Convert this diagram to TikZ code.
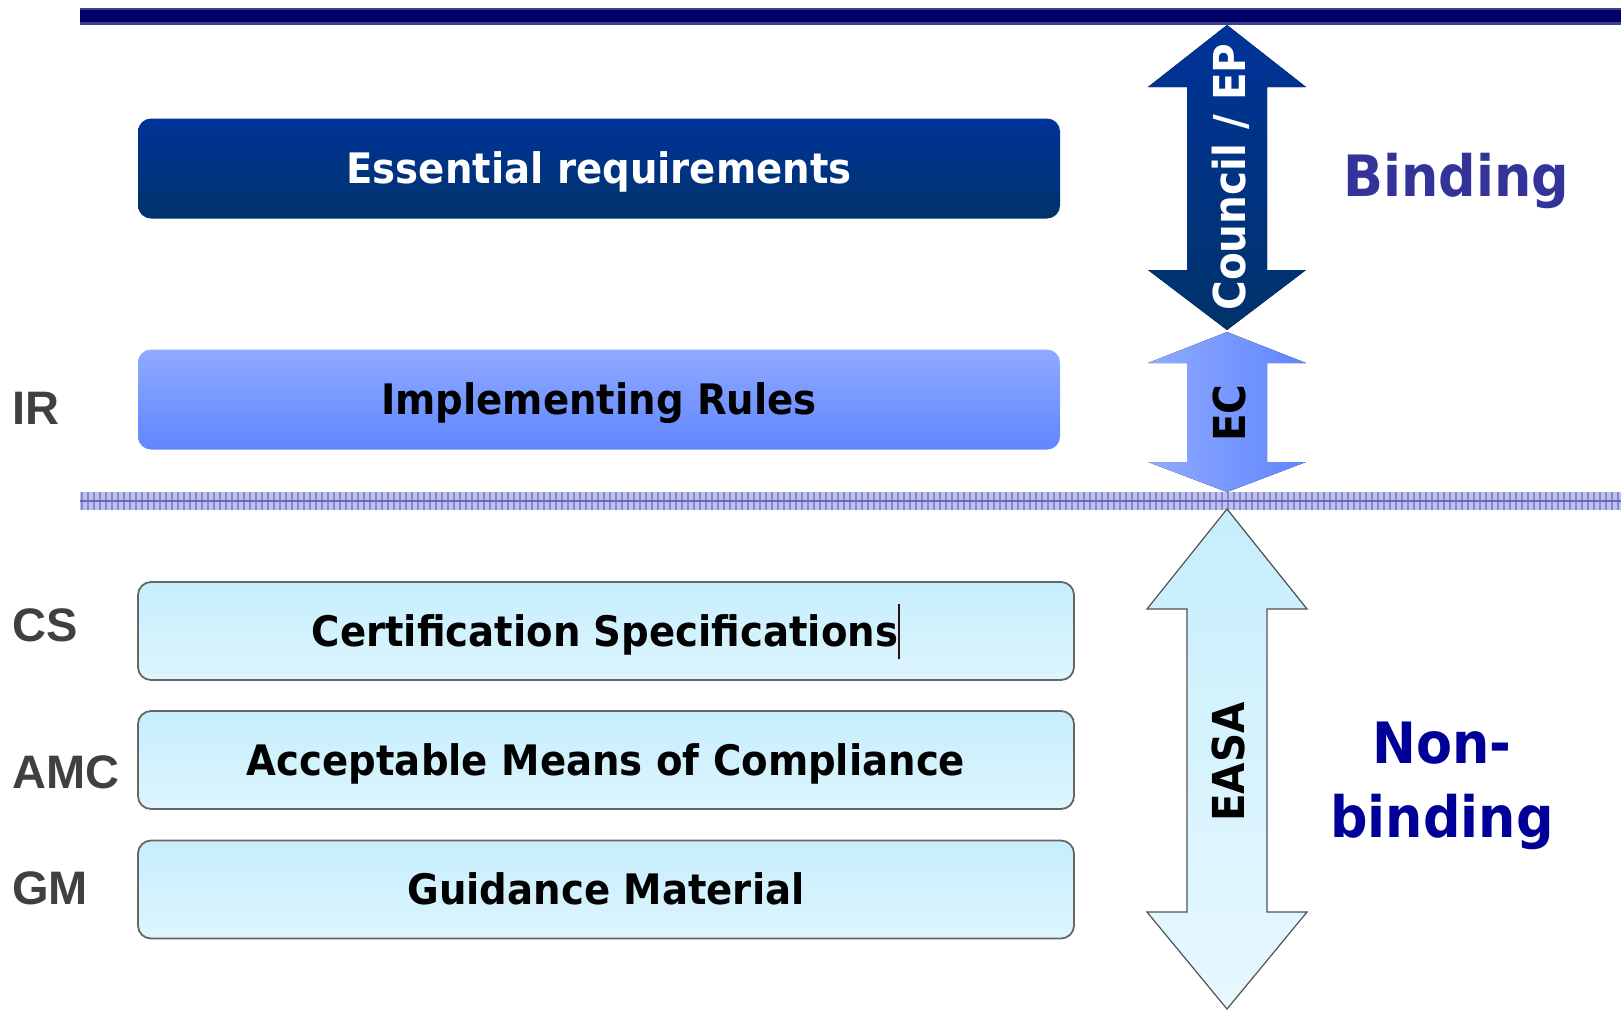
\documentclass[tikz,border=0pt]{standalone}
\usepackage{fontspec}
\newfontfamily\vfont{DejaVu Sans}[FakeStretch=0.92]
\newfontfamily\afont{Liberation Sans}
\definecolor{erTop}{HTML}{003399}
\definecolor{erBot}{HTML}{00336A}
\definecolor{irTop}{HTML}{90AAFF}
\definecolor{irBot}{HTML}{5F86FF}
\definecolor{nbTop}{HTML}{C6EEFC}
\definecolor{nbBot}{HTML}{DDF5FE}
\definecolor{nbLine}{HTML}{666666}
\definecolor{topLine}{HTML}{000066}
\definecolor{bandFill}{HTML}{BFC1E6}
\definecolor{bandLine}{HTML}{8587D0}
\definecolor{bandMid}{HTML}{6466C4}
\definecolor{bindCol}{HTML}{333399}
\definecolor{nonCol}{HTML}{000099}
\definecolor{lblCol}{HTML}{404040}
\definecolor{cursorCol}{HTML}{301010}
\tikzset{
  levelbox/.style={rounded corners=13pt, inner sep=0pt, minimum height=100pt,
    font=\vfont\bfseries\fontsize{42}{50}\selectfont, text height=30.6pt, text depth=0pt},
  erbox/.style={levelbox, top color=erTop, bottom color=erBot, text=white, minimum width=922pt},
  irbox/.style={levelbox, top color=irTop, bottom color=irBot, text=black, minimum width=922pt},
  nbbox/.style={levelbox, top color=nbTop, bottom color=nbBot, draw=nbLine, line width=1.8pt,
    text=black, minimum width=936pt, minimum height=98pt},
  sidelbl/.style={anchor=base west, inner sep=0pt, text=lblCol,
    font=\afont\bfseries\fontsize{47}{56}\selectfont},
  arrowtxt/.style={rotate=90, inner sep=0pt, font=\vfont\bfseries\fontsize{44}{52}\selectfont,
    text height=32pt, text depth=0pt},
  statuslbl/.style={inner sep=0pt, font=\vfont\bfseries\fontsize{57}{74}\selectfont, align=center}
}
\begin{document}
\begin{tikzpicture}[x=1pt,y=-1pt]
\useasboundingbox (0,0) rectangle (1621,1013);
% top line
\draw[line width=17pt, color=topLine!75!white] (80,16) -- (1621,16);
\draw[line width=12pt, color=topLine] (80,16) -- (1621,16);
% dotted separator band
\fill[bandFill] (80,492) rectangle (1621,510);
\foreach \xx in {82,88,...,1620} \draw[bandLine, line width=1.6pt] (\xx,492) -- (\xx,510);
\draw[bandMid, line width=2pt] (80,501) -- (1621,501);
% boxes
\node[erbox] (er) at (599,168.5) {Essential requirements};
\node[irbox] (ir) at (599,399.5) {Implementing Rules};
\node[nbbox] (cs) at (606,631) {Certification Specifications\textcolor{cursorCol}{\rule[-13pt]{2pt}{55pt}}};
\node[nbbox] (amc) at (606,760) {Acceptable Means of Compliance};
\node[nbbox] (gm) at (606,889.5) {Guidance Material};
% side labels
\node[sidelbl] (lir) at (12,424) {IR};
\node[sidelbl] (lcs) at (12,641) {CS};
\node[sidelbl] (lamc) at (12,788) {AMC};
\node[sidelbl] (lgm) at (12,904) {GM};
% arrows
\fill[top color=erTop, bottom color=erBot]
  (1227,25) -- (1306,87) -- (1267,87) -- (1267,270) -- (1306,270) -- (1227,330)
  -- (1148,270) -- (1187,270) -- (1187,87) -- (1148,87) -- cycle;
\fill[left color=irTop, right color=irBot]
  (1227,332) -- (1306,363) -- (1267,363) -- (1267,462) -- (1306,462) -- (1227,492)
  -- (1148,462) -- (1187,462) -- (1187,363) -- (1148,363) -- cycle;
\draw[top color=nbTop, bottom color=nbBot!70!white, draw=nbLine!80!black, line width=1.2pt]
  (1227,509) -- (1307,609) -- (1267,609) -- (1267,912) -- (1307,912) -- (1227,1009)
  -- (1147,912) -- (1187,912) -- (1187,609) -- (1147,609) -- cycle;
\node[arrowtxt, text=white] (tcouncil) at (1229,177) {Council / EP};
\node[arrowtxt, text=black] (tec) at (1229,413) {EC};
\node[arrowtxt, text=black] (teasa) at (1228,762) {EASA};
% status labels
\node[statuslbl, text=bindCol, anchor=base] (bind) at (1456,196) {Binding};
\node[statuslbl, text=nonCol] (nonbind) at (1442,786) {Non-\\binding};
\end{tikzpicture}
\end{document}
